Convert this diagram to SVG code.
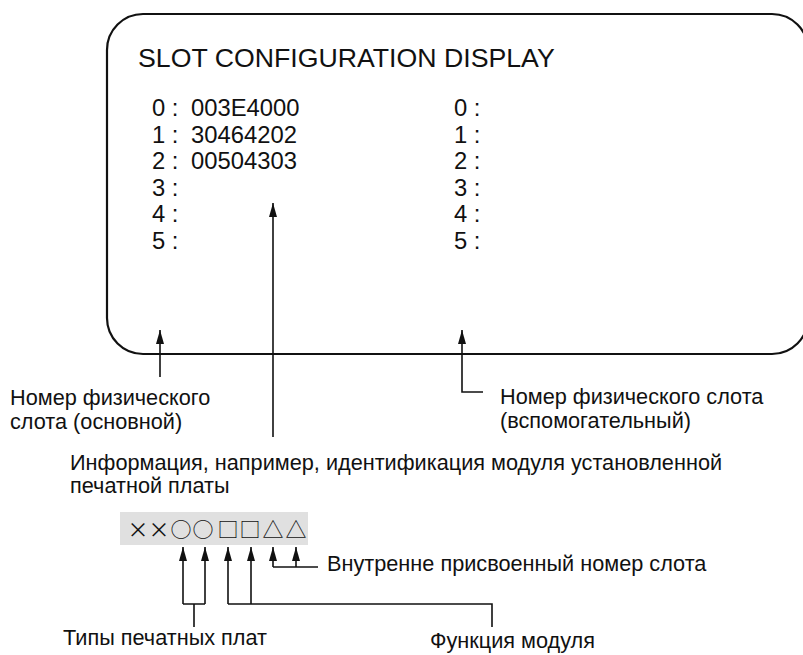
<svg xmlns="http://www.w3.org/2000/svg" width="803" height="655" viewBox="0 0 803 655">
<style>
text{font-family:"Liberation Sans",Arial,sans-serif;fill:#111}
.title{font-size:26.7px}
.row{font-size:23.8px}
.lbl{font-size:21.7px}
.sym{font-family:"Noto Sans CJK JP","DejaVu Sans",sans-serif;font-size:21px;text-anchor:middle}
.ln{fill:none;stroke:#111;stroke-width:1.6}
.arr{fill:none;stroke:#111;stroke-width:1.6;marker-end:url(#ah)}
</style>
<defs>
<marker id="ah" viewBox="0 0 14 8" refX="14" refY="4" markerWidth="14" markerHeight="8" markerUnits="userSpaceOnUse" orient="auto">
<path d="M0,0 L14,4 L0,8 z" fill="#111"/>
</marker>
</defs>
<rect width="803" height="655" fill="#fff"/>
<g id="screen">
<rect x="107" y="14" width="701" height="340" rx="36" ry="36" fill="none" stroke="#111" stroke-width="2.2"/>
<text class="title" x="138" y="67">SLOT CONFIGURATION DISPLAY</text>
<text class="row" x="152" y="116">0 :</text><text class="row" x="191" y="116">003E4000</text>
<text class="row" x="152" y="142.6">1 :</text><text class="row" x="191" y="142.6">30464202</text>
<text class="row" x="152" y="169.2">2 :</text><text class="row" x="191" y="169.2">00504303</text>
<text class="row" x="152" y="195.8">3 :</text>
<text class="row" x="152" y="222.4">4 :</text>
<text class="row" x="152" y="249">5 :</text>
<text class="row" x="454" y="116">0 :</text>
<text class="row" x="454" y="142.6">1 :</text>
<text class="row" x="454" y="169.2">2 :</text>
<text class="row" x="454" y="195.8">3 :</text>
<text class="row" x="454" y="222.4">4 :</text>
<text class="row" x="454" y="249">5 :</text>
</g>
<g id="label-main">
<text class="lbl" x="10" y="405">Номер физического</text>
<text class="lbl" x="10" y="429">слота (основной)</text>
</g>
<g id="label-sub">
<text class="lbl" x="500" y="404">Номер физического слота</text>
<text class="lbl" x="500" y="428">(вспомогательный)</text>
</g>
<g id="label-info">
<text class="lbl" x="70" y="470">Информация, например, идентификация модуля установленной</text>
<text class="lbl" x="70" y="493">печатной платы</text>
</g>
<g id="code">
<rect x="120" y="512" width="188" height="33" fill="#e0e0e0"/>
<text class="sym" x="138" y="537">×</text>
<text class="sym" x="159" y="537">×</text>
<text class="sym" x="181" y="537">○</text>
<text class="sym" x="203" y="537">○</text>
<text class="sym" x="228" y="537">□</text>
<text class="sym" x="250" y="537">□</text>
<text class="sym" x="273" y="537">△</text>
<text class="sym" x="296" y="537">△</text>
</g>
<g id="label-slot-int">
<text class="lbl" x="327" y="571">Внутренне присвоенный номер слота</text>
</g>
<g id="label-types">
<text class="lbl" x="63" y="645">Типы печатных плат</text>
</g>
<g id="label-func">
<text class="lbl" x="430" y="648">Функция модуля</text>
</g>
<g id="connectors">
<path class="arr" d="M160,377 V330"/>
<path class="arr" d="M273,437 V203"/>
<path class="arr" d="M483,392 H462 V330"/>
<path class="arr" d="M183,604 V547"/>
<path class="arr" d="M205,604 V547"/>
<path class="ln" d="M183,604 H205 M194,604 V627"/>
<path class="arr" d="M228,604 V547"/>
<path class="arr" d="M251,604 V547"/>
<path class="ln" d="M228,604 H492 V627"/>
<path class="arr" d="M273,567 V547"/>
<path class="arr" d="M296,567 V547"/>
<path class="ln" d="M273,567 H318"/>
</g>
</svg>
